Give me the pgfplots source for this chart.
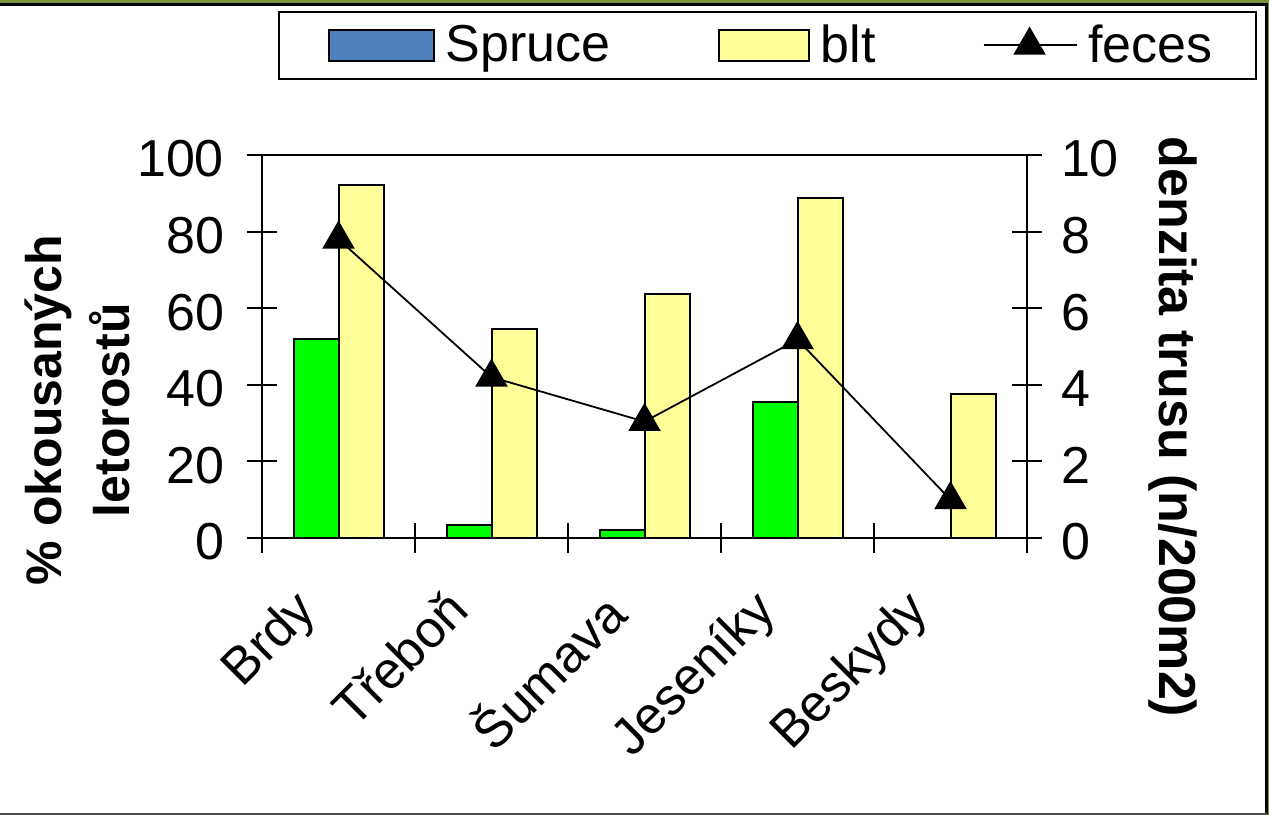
\documentclass[border=0pt]{standalone}
\usepackage{pgfplots}
\pgfplotsset{compat=1.18}
\usepackage{fontspec}
\setmainfont{Liberation Sans}

\definecolor{barGreen}{HTML}{00FF00}
\definecolor{barYellow}{HTML}{FFFF99}
\definecolor{spruceBlue}{HTML}{4F81BD}
\definecolor{frameOlive}{HTML}{77933C}

\pgfplotsset{
  fecesLegend/.style={legend image code/.code={
    \draw[mark repeat=2, mark phase=2, ##1] plot coordinates {(0pt,0pt) (23pt,0pt) (46.5pt,0pt)};}},
  spruceLegend/.style={legend image code/.code={
    \path (0pt,0pt);
    \draw[fill=spruceBlue, draw=black, line width=1pt] (4.5pt,-7.75pt) rectangle (57pt,7.75pt);}},
  bltLegend/.style={legend image code/.code={
    \draw[fill=barYellow, draw=black, line width=1pt] (0pt,-7.75pt) rectangle (45pt,7.75pt);}},
}

\begin{document}
\begin{tikzpicture}
\useasboundingbox (0pt,0pt) rectangle (634.5pt,-407.5pt);
\fill[white] (0pt,0pt) rectangle (634.5pt,-407.5pt);

\pgfplotsset{
  every axis/.append style={
    at={(131pt,-269pt)}, anchor=south west,
    width=382.5pt, height=191.5pt, scale only axis,
    xmin=-0.5, xmax=4.5,
    font=\fontsize{26}{30}\selectfont,
    tick align=center,
    /pgf/number format/assume math mode=true,
    axis line style={line width=1pt},
    every tick/.style={black, line width=1pt},
  },
}

% left axis: bars
\begin{axis}[
  ymin=0, ymax=100,
  ytick={0,20,...,100},
  ytick pos=left,
  major tick length=15pt,
  xtick={-0.5,0.5,...,4.5},
  xticklabels={,,,,,},
  xtick pos=bottom,
  x tick style={yshift=7.5pt},
  extra x ticks={0,1,2,3,4},
  extra x tick labels={Brdy,Třeboň,Šumava,Jeseníky,Beskydy},
  extra x tick style={major tick length=0pt,
    xticklabel style={xshift=-23.5pt, yshift=-19pt, rotate=45, anchor=north east}},
  yticklabel style={xshift=-8pt, yshift=-2pt},
  ybar=0pt, bar width=22.5pt,
  ylabel={\% okousaných\\letorostů},
  ylabel style={at={(axis description cs:-0.2418,0.334)}, anchor=center,
    align=center, font=\fontsize{25}{34}\selectfont\bfseries},
]
\addplot[fill=barGreen, draw=black, line width=1pt]
  coordinates {(0,52.0) (1,3.4) (2,2.2) (3,35.4) (4,0)};
\addplot[fill=barYellow, draw=black, line width=1pt]
  coordinates {(0,92.1) (1,54.6) (2,63.8) (3,88.8) (4,37.5)};
\end{axis}

% right axis: feces density
\begin{axis}[
  ymin=0, ymax=10,
  ytick={0,2,...,10},
  axis x line=none,
  axis y line*=right,
  major tick length=15pt,
  yticklabel style={xshift=6pt, yshift=-2pt},
  ylabel={denzita trusu (n/200m2)},
  ylabel style={at={(axis description cs:1.191,0.29)}, anchor=center,
    rotate=180, font=\fontsize{26}{30}\selectfont\bfseries},
  legend columns=3,
  legend style={
    at={(axis description cs:0.0209,1.376)}, anchor=north west,
    draw=black, line width=1pt,
    font=\fontsize{26}{30}\selectfont,
    inner xsep=20pt, inner ysep=5pt,
    nodes={inner sep=1.5pt},
    /tikz/every odd column/.append style={column sep=4pt},
    /tikz/every even column/.append style={column sep=52pt},
  },
  legend cell align=left,
]
\addlegendimage{spruceLegend}
\addlegendentry{Spruce}
\addlegendimage{bltLegend}
\addlegendentry{blt}
\addplot[black, line width=0.9pt, mark=triangle*, mark size=8.5pt,
  mark options={solid, fill=black}, fecesLegend]
  coordinates {(0,7.8) (1,4.2) (2,3.04) (3,5.18) (4,1.0)};
\addlegendentry{feces}
\end{axis}

% outer frame of the original picture
\fill[frameOlive] (0pt,0pt) rectangle (634.5pt,-1.5pt);
\draw[black, line width=1.5pt] (0pt,-2.25pt) -- (633pt,-2.25pt);
\fill[frameOlive] (633.75pt,0pt) rectangle (634.5pt,-407.5pt);
\draw[black, line width=1.5pt] (633pt,-1.5pt) -- (633pt,-407.5pt);
\draw[black!70, line width=1pt] (0pt,-407pt) -- (634.5pt,-407pt);
\end{tikzpicture}
\end{document}
